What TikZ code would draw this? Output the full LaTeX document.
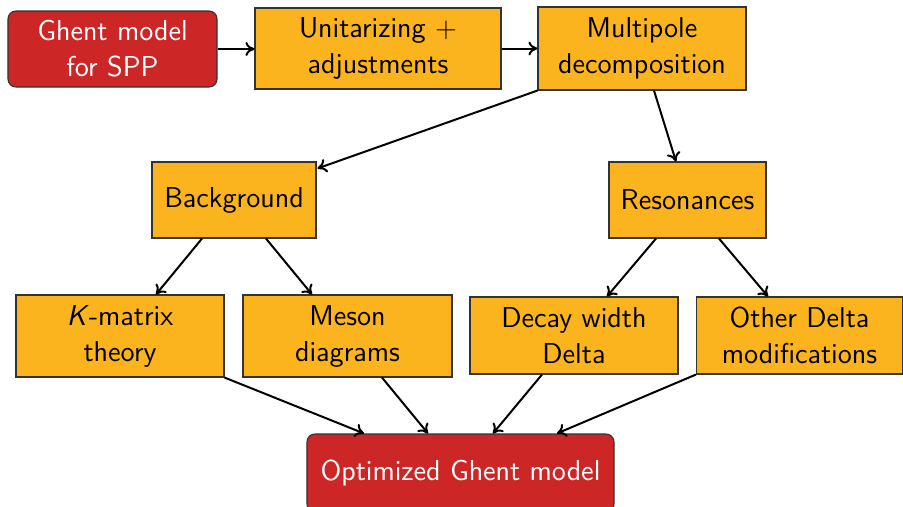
\documentclass[tikz,border=0pt]{standalone}
\usetikzlibrary{arrows.meta}
\definecolor{boxorange}{RGB}{251,180,30}
\definecolor{boxred}{RGB}{205,38,38}
\tikzset{
  base/.style={draw=black!80, line width=0.45pt, inner sep=0pt, align=center,
    font=\sffamily\fontsize{11.5}{14.4}\selectfont},
  obox/.style={base, fill=boxorange, text=black},
  rbox/.style={base, fill=boxred, text=white, rounded corners=3.2pt},
  arr/.style={-{To[length=3.6pt,width=5.6pt]}, line width=0.8pt, black},
}
\begin{document}
\begin{tikzpicture}[x=0.4pt,y=-0.4pt]
\useasboundingbox (0,0) rectangle (903,507);
\begin{scope}
\clip (0,0) rectangle (903,507);
\node[rbox, minimum width=83.6pt, minimum height=30.4pt] (ghent) at (112.5,49) {Ghent model\\for SPP};
\node[obox, minimum width=98.4pt, minimum height=32.4pt] (unit) at (378,48.5) {Unitarizing +\\adjustments};
\node[obox, minimum width=83.2pt, minimum height=33.2pt] (mp) at (642,48.5) {Multipole\\decomposition};
\node[obox, minimum width=65.6pt, minimum height=30.4pt] (bg) at (234,200) {Background};
\node[obox, minimum width=62.8pt, minimum height=30.4pt] (res) at (687.5,200) {Resonances};
\node[obox, minimum width=83.2pt, minimum height=32.8pt] (km) at (120,336) {\textit{K}-matrix\\theory};
\node[obox, minimum width=83.6pt, minimum height=32.8pt] (meson) at (347.5,336) {Meson\\diagrams};
\node[obox, minimum width=83.2pt, minimum height=30.8pt] (decay) at (574,335.5) {Decay width\\Delta};
\node[obox, minimum width=82.4pt, minimum height=30.8pt] (other) at (799.5,335.5) {Other Delta\\modifications};
\node[rbox, minimum width=122.8pt, minimum height=31.2pt] (opt) at (460.5,473) {Optimized Ghent model};
\end{scope}
\draw[arr] (ghent.east) -- (ghent.east -| unit.west);
\draw[arr] (unit.east) -- (unit.east -| mp.west);
\draw[arr] (mp.south west) -- ([xshift=0.4pt,yshift=-2.8pt]bg.north east);
\draw[arr] ([xshift=4.8pt]mp.south) -- ([xshift=-4.6pt]res.north);
\draw[arr] ([xshift=-12.8pt]bg.south) -- ([xshift=14.4pt]km.north);
\draw[arr] ([xshift=12.8pt]bg.south) -- ([xshift=-14.2pt]meson.north);
\draw[arr] ([xshift=-12.6pt]res.south) -- ([xshift=13.2pt]decay.north);
\draw[arr] ([xshift=12.6pt]res.south) -- ([xshift=-12.6pt]other.north);
\draw[arr] (km.south east) -- ([xshift=-38.6pt]opt.north);
\draw[arr] ([xshift=13.8pt]meson.south) -- ([xshift=-13pt]opt.north);
\draw[arr] ([xshift=-12.8pt]decay.south) -- ([xshift=13pt]opt.north);
\draw[arr] (other.south west) -- ([xshift=38.6pt]opt.north);
\end{tikzpicture}
\end{document}
